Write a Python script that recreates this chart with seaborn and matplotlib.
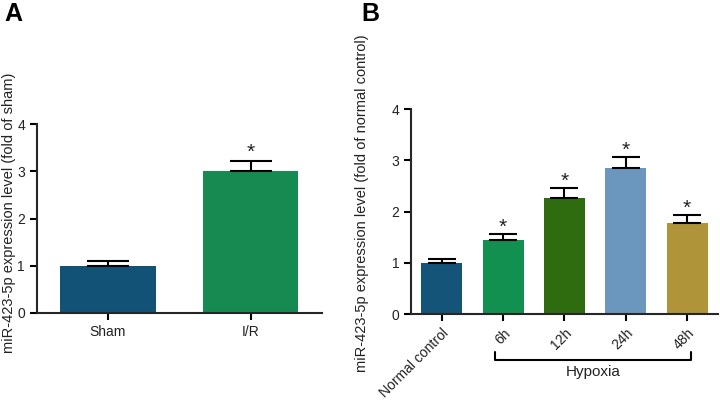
import numpy as np
import pandas as pd
import matplotlib.pyplot as plt
import matplotlib.transforms as mtransforms
import seaborn as sns

# Panel A
groups_a = ["Sham", "I/R"]
values_a = [1.0, 3.0]
errors_a = [0.09, 0.21]
stars_a = [False, True]
colors_a = ["#125277", "#178a52"]

# Panel B
groups_b = ["Normal control", "6h", "12h", "24h", "48h"]
values_b = [1.0, 1.45, 2.26, 2.84, 1.78]
errors_b = [0.08, 0.12, 0.19, 0.23, 0.15]
stars_b = [False, True, True, True, True]
colors_b = ["#135478", "#12904f", "#2f6c10", "#6b96bd", "#b0943a"]

sns.set_style("ticks")
plt.rcParams["font.family"] = ["Liberation Sans", "DejaVu Sans"]
plt.rcParams["axes.linewidth"] = 1.5


def draw_panel(ax, groups, values, errors, stars, colors, ylabel, capsize,
               star_off, label_xy):
    df = pd.DataFrame({"group": groups, "value": values})
    sns.barplot(data=df, x="group", y="value", hue="group", palette=colors,
                saturation=1, width=0.667, legend=False, ax=ax,
                edgecolor="none")
    x = np.arange(len(groups))
    ax.errorbar(x, values, yerr=[np.zeros(len(errors)), errors], fmt="none",
                ecolor="black", elinewidth=1.5, capsize=capsize, capthick=1.5)
    for xi, v, e, s in zip(x, values, errors, stars):
        if s:
            ax.text(xi, v + e + star_off, "*", ha="center", va="center",
                    fontsize=15, color="#222222")
    ax.set_ylim(0, 4)
    ax.set_yticks([0, 1, 2, 3, 4])
    ax.set_xlim(-0.5, len(groups) - 0.5)
    ax.set_xlabel("")
    ax.set_ylabel(ylabel, fontsize=10.5, color="#222222")
    ax.yaxis.set_label_coords(*label_xy)
    ax.tick_params(axis="both", direction="out", length=5, width=1.5,
                   labelsize=10, labelcolor="#222222", color="black")
    sns.despine(ax=ax)


fig = plt.figure(figsize=(7.2, 4), dpi=100)
ax_a = fig.add_axes([0.051, 0.2175, 0.396, 0.4725])
ax_b = fig.add_axes([0.571, 0.215, 0.426, 0.5125])

draw_panel(ax_a, groups_a, values_a, errors_a, stars_a, colors_a,
           "miR-423-5p expression level (fold of sham)", 15, 0.2,
           (-0.074, 0.53))
draw_panel(ax_b, groups_b, values_b, errors_b, stars_b, colors_b,
           "miR-423-5p expression level (fold of normal control)", 10, 0.13,
           (-0.137, 0.54))

ax_b.set_xticks(range(len(groups_b)))
ax_b.set_xticklabels(groups_b, rotation=45, ha="right", rotation_mode="anchor")

# Hypoxia bracket
trans = mtransforms.blended_transform_factory(ax_b.transData, ax_b.transAxes)
ax_b.plot([0.87, 0.87, 4.07, 4.07], [-0.184, -0.224, -0.224, -0.184],
          color="black", lw=1.5, transform=trans, clip_on=False)
ax_b.text(2.47, -0.25, "Hypoxia", transform=trans, ha="center", va="top",
          fontsize=11, color="#222222")

fig.text(0.006, 0.995, "A", fontsize=18, fontweight="bold", va="top", ha="left",
         color="black")
fig.text(0.502, 0.995, "B", fontsize=18, fontweight="bold", va="top", ha="left",
         color="black")

fig.savefig("out.png", dpi=100)
